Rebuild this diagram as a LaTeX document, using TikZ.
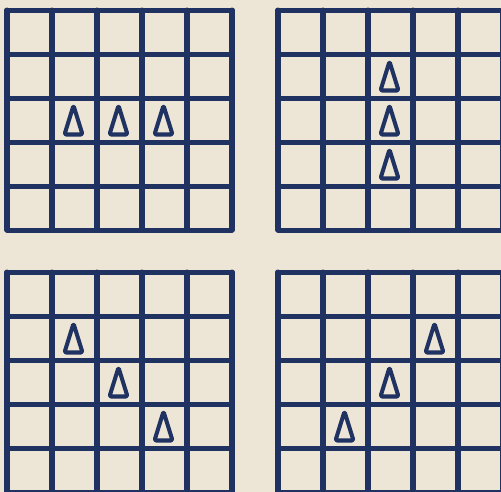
\documentclass[tikz,border=0pt]{standalone}
\definecolor{paper}{HTML}{EDE6D6}
\definecolor{ink}{HTML}{1F3262}
\tikzstyle{board}=[draw=ink, line width=2.85pt, line cap=round, line join=round]
\tikzstyle{marker}=[draw=ink, line width=2.3pt, line join=round, rounded corners=0.8pt]
% one 5x5 board, top left corner at the origin of the scope
\newcommand{\drawboard}{
    \foreach \i in {0,...,5} \draw [board] (45*\i,0) -- (45*\i,220);
    \foreach \j in {0,...,5} \draw [board] (0,44*\j) -- (225,44*\j);
}
% triangle in cell (column, row)
\newcommand{\drawmark}[2]{
    \coordinate (c) at ({45*(#1-0.5)-1},{44*(#2-0.5)});
    \draw [marker] ([shift={(-9,14.5)}]c) -- ([shift={(0,-14.5)}]c) -- ([shift={(9,14.5)}]c) -- cycle;
}

\begin{document}
\begin{tikzpicture}[x=0.02cm, y=-0.02cm]
    \useasboundingbox (0,0) rectangle (501,491);
    \fill [paper] (-10,-10) rectangle (511,501);

    % row
    \begin{scope}[shift={(7,10)}]
        \drawboard
        \foreach \c in {2,3,4} {\drawmark{\c}{3}}
    \end{scope}

    % column
    \begin{scope}[shift={(278,10)}]
        \drawboard
        \foreach \r in {2,3,4} {\drawmark{3}{\r}}
    \end{scope}

    % diagonal
    \begin{scope}[shift={(7,272)}]
        \drawboard
        \foreach \c/\r in {2/2,3/3,4/4} {\drawmark{\c}{\r}}
    \end{scope}

    % anti-diagonal
    \begin{scope}[shift={(278,272)}]
        \drawboard
        \foreach \c/\r in {4/2,3/3,2/4} {\drawmark{\c}{\r}}
    \end{scope}
\end{tikzpicture}
\end{document}
